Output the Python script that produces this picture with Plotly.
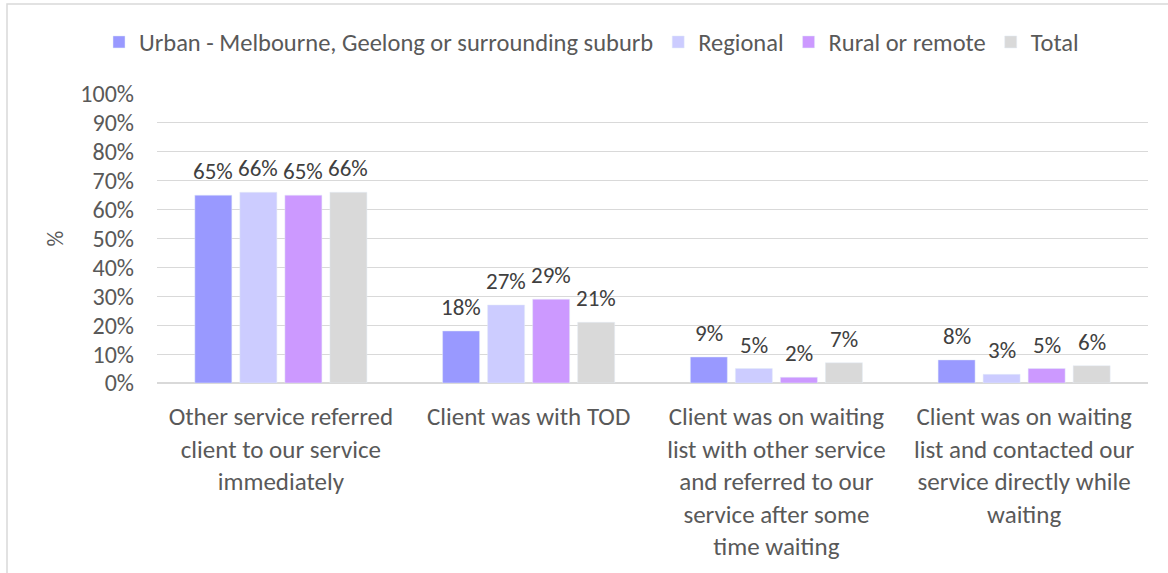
import plotly.graph_objects as go

categories = [
    "Other service referred<br>client to our service<br>immediately",
    "Client was with TOD",
    "Client was on waiting<br>list with other service<br>and referred to our<br>service after some<br>time waiting",
    "Client was on waiting<br>list and contacted our<br>service directly while<br>waiting",
]
series_names = ["Urban - Melbourne, Geelong or surrounding suburb", "Regional", "Rural or remote", "Total"]
urban = [65, 18, 9, 8]
regional = [66, 27, 5, 3]
rural = [65, 29, 2, 5]
total = [66, 21, 7, 6]
colors = ["#9999FF", "#CCCCFF", "#CC99FF", "#D9D9D9"]
y_ticks = list(range(0, 101, 10))

FONT = "Carlito, Lato, sans-serif"
W, H = 1168, 573
L, R, T, B = 157, 20, 94, 190
pw, ph = W - L - R, H - T - B
BARGAP, GROUPGAP = 0.273, 0.178

all_series = [urban, regional, rural, total]
fig = go.Figure()
for name, vals, col in zip(series_names, all_series, colors):
    fig.add_trace(go.Bar(
        x=categories, y=vals, name=name, marker_color=col,
    ))

# data labels above each bar, positioned from the bar-group geometry
n = len(all_series)
group_w = 1 - BARGAP
slot = group_w / n
for i, vals in enumerate(all_series):
    off = -group_w / 2 + slot * (i + 0.5)
    for j, v in enumerate(vals):
        fig.add_annotation(x=j + off, y=v, xref="x", yref="y", text=f"{v}%",
                           showarrow=False, yanchor="middle", yshift=24,
                           font=dict(family=FONT, size=23, color="#404040"))

def px_x(p):
    return (p - L) / pw

def px_y(p):
    return 1 - (p - T) / ph

fig.add_shape(type="rect", xref="paper", yref="paper",
              x0=px_x(7), x1=px_x(1200), y0=px_y(4), y1=px_y(600),
              line=dict(color="#D9D9D9", width=1.5), fillcolor="rgba(0,0,0,0)", layer="below")

fig.update_layout(
    width=W, height=H,
    margin=dict(l=L, r=R, t=T, b=B, autoexpand=False),
    paper_bgcolor="white", plot_bgcolor="white",
    barmode="group", bargap=BARGAP, bargroupgap=GROUPGAP,
    font=dict(family=FONT, size=22, color="#595959"),
    legend=dict(orientation="h", x=px_x(99), xanchor="left", y=px_y(42), yanchor="middle",
                font=dict(family=FONT, size=24.5, color="#595959"), itemwidth=30,
                traceorder="normal"),
    yaxis=dict(range=[0, 100], tickvals=y_ticks, ticktext=[f"{v}%" for v in y_ticks],
               showgrid=True, gridcolor="#D9D9D9", gridwidth=1, zeroline=True,
               zerolinecolor="#D9D9D9", showline=False, ticks="", ticklen=0,
               ticklabelstandoff=22,
               title=dict(text="%", font=dict(family=FONT, size=22, color="#595959"), standoff=10),
               tickfont=dict(family=FONT, size=24, color="#595959")),
    xaxis=dict(showline=False, ticks="", tickfont=dict(family=FONT, size=25, color="#595959"),
               tickangle=0, ticklabelstandoff=16),
)

fig.write_html("out.html", config={"displayModeBar": False},
               post_script="document.body.style.margin='0';")
